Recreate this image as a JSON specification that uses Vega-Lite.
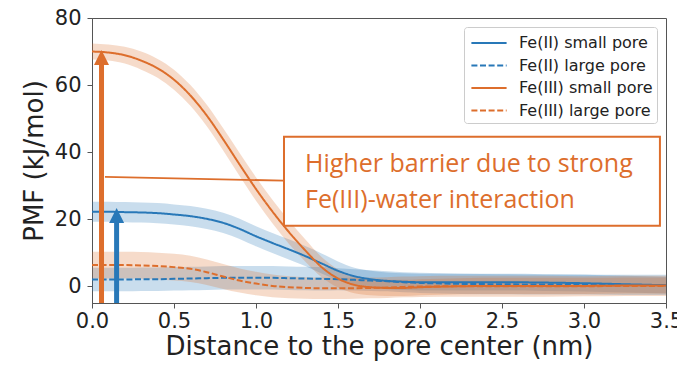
{
  "$schema": "https://vega.github.io/schema/vega-lite/v6.json",
  "width": 574,
  "height": 285,
  "autosize": {"type": "none"},
  "padding": {"left": 92, "top": 18, "right": 11, "bottom": 67},
  "background": "white",
  "config": {
    "view": {"stroke": "#555555", "strokeWidth": 1},
    "axis": {"labelFont": "DejaVu Sans", "titleFont": "DejaVu Sans", "labelFontSize": 21, "titleFontSize": 26, "titleFontWeight": "normal", "labelColor": "#222222", "titleColor": "#222222", "tickColor": "#555555", "domainColor": "#555555", "tickSize": 5, "grid": false},
    "legend": {"labelFont": "DejaVu Sans", "labelFontSize": 16, "labelColor": "#222222"}
  },
  "datasets": {
    "curves": [
      {"s": "Fe(II) small pore", "x": 0, "y": 22.2, "lo": 19.2, "hi": 25.2},
      {"s": "Fe(II) small pore", "x": 0.1, "y": 22.2, "lo": 19.2, "hi": 25.2},
      {"s": "Fe(II) small pore", "x": 0.2, "y": 22.1, "lo": 19.1, "hi": 25.1},
      {"s": "Fe(II) small pore", "x": 0.3, "y": 22.0, "lo": 19.0, "hi": 25.0},
      {"s": "Fe(II) small pore", "x": 0.4, "y": 21.8, "lo": 18.8, "hi": 24.8},
      {"s": "Fe(II) small pore", "x": 0.5, "y": 21.4, "lo": 18.4, "hi": 24.4},
      {"s": "Fe(II) small pore", "x": 0.6, "y": 20.9, "lo": 17.9, "hi": 23.9},
      {"s": "Fe(II) small pore", "x": 0.7, "y": 20.1, "lo": 17.1, "hi": 23.1},
      {"s": "Fe(II) small pore", "x": 0.8, "y": 18.9, "lo": 15.9, "hi": 21.9},
      {"s": "Fe(II) small pore", "x": 0.9, "y": 17.1, "lo": 14.1, "hi": 20.1},
      {"s": "Fe(II) small pore", "x": 1.0, "y": 14.9, "lo": 11.9, "hi": 17.9},
      {"s": "Fe(II) small pore", "x": 1.1, "y": 12.9, "lo": 9.9, "hi": 15.9},
      {"s": "Fe(II) small pore", "x": 1.2, "y": 11.0, "lo": 8.0, "hi": 14.0},
      {"s": "Fe(II) small pore", "x": 1.3, "y": 9.0, "lo": 6.0, "hi": 12.0},
      {"s": "Fe(II) small pore", "x": 1.4, "y": 6.8, "lo": 3.8, "hi": 9.8},
      {"s": "Fe(II) small pore", "x": 1.5, "y": 4.6, "lo": 1.8, "hi": 7.4},
      {"s": "Fe(II) small pore", "x": 1.6, "y": 3.0, "lo": 0.5, "hi": 5.5},
      {"s": "Fe(II) small pore", "x": 1.7, "y": 2.1, "lo": -0.4, "hi": 4.6},
      {"s": "Fe(II) small pore", "x": 1.8, "y": 1.6, "lo": -0.9, "hi": 4.1},
      {"s": "Fe(II) small pore", "x": 1.9, "y": 1.35, "lo": -1.15, "hi": 3.85},
      {"s": "Fe(II) small pore", "x": 2.0, "y": 1.2, "lo": -1.3, "hi": 3.7},
      {"s": "Fe(II) small pore", "x": 2.25, "y": 1.2, "lo": -1.3, "hi": 3.7},
      {"s": "Fe(II) small pore", "x": 2.5, "y": 1.2, "lo": -1.3, "hi": 3.7},
      {"s": "Fe(II) small pore", "x": 2.75, "y": 1.1, "lo": -1.4, "hi": 3.6},
      {"s": "Fe(II) small pore", "x": 3.0, "y": 0.9, "lo": -1.6, "hi": 3.4},
      {"s": "Fe(II) small pore", "x": 3.25, "y": 0.6, "lo": -1.9, "hi": 3.1},
      {"s": "Fe(II) small pore", "x": 3.5, "y": 0.3, "lo": -2.2, "hi": 2.8},

      {"s": "Fe(II) large pore", "x": 0, "y": 2.0, "lo": -1.5, "hi": 5.5},
      {"s": "Fe(II) large pore", "x": 0.1, "y": 2.0, "lo": -1.5, "hi": 5.5},
      {"s": "Fe(II) large pore", "x": 0.2, "y": 2.0, "lo": -1.5, "hi": 5.5},
      {"s": "Fe(II) large pore", "x": 0.3, "y": 2.1, "lo": -1.4, "hi": 5.6},
      {"s": "Fe(II) large pore", "x": 0.4, "y": 2.1, "lo": -1.4, "hi": 5.6},
      {"s": "Fe(II) large pore", "x": 0.5, "y": 2.2, "lo": -1.3, "hi": 5.7},
      {"s": "Fe(II) large pore", "x": 0.6, "y": 2.3, "lo": -1.2, "hi": 5.8},
      {"s": "Fe(II) large pore", "x": 0.7, "y": 2.4, "lo": -1.1, "hi": 5.9},
      {"s": "Fe(II) large pore", "x": 0.8, "y": 2.5, "lo": -1.0, "hi": 6.0},
      {"s": "Fe(II) large pore", "x": 0.9, "y": 2.5, "lo": -1.0, "hi": 6.0},
      {"s": "Fe(II) large pore", "x": 1.0, "y": 2.5, "lo": -1.0, "hi": 6.0},
      {"s": "Fe(II) large pore", "x": 1.1, "y": 2.5, "lo": -1.0, "hi": 6.0},
      {"s": "Fe(II) large pore", "x": 1.2, "y": 2.4, "lo": -1.1, "hi": 5.9},
      {"s": "Fe(II) large pore", "x": 1.3, "y": 2.3, "lo": -1.2, "hi": 5.8},
      {"s": "Fe(II) large pore", "x": 1.4, "y": 2.2, "lo": -1.3, "hi": 5.7},
      {"s": "Fe(II) large pore", "x": 1.5, "y": 2.1, "lo": -1.2, "hi": 5.4},
      {"s": "Fe(II) large pore", "x": 1.6, "y": 1.9, "lo": -1.3, "hi": 5.1},
      {"s": "Fe(II) large pore", "x": 1.7, "y": 1.7, "lo": -1.4, "hi": 4.8},
      {"s": "Fe(II) large pore", "x": 1.8, "y": 1.5, "lo": -1.5, "hi": 4.5},
      {"s": "Fe(II) large pore", "x": 1.9, "y": 1.2, "lo": -1.8, "hi": 4.2},
      {"s": "Fe(II) large pore", "x": 2.0, "y": 1.0, "lo": -2.0, "hi": 4.0},
      {"s": "Fe(II) large pore", "x": 2.25, "y": 0.7, "lo": -2.3, "hi": 3.7},
      {"s": "Fe(II) large pore", "x": 2.5, "y": 0.6, "lo": -2.4, "hi": 3.6},
      {"s": "Fe(II) large pore", "x": 2.75, "y": 0.5, "lo": -2.5, "hi": 3.5},
      {"s": "Fe(II) large pore", "x": 3.0, "y": 0.5, "lo": -2.5, "hi": 3.5},
      {"s": "Fe(II) large pore", "x": 3.25, "y": 0.4, "lo": -2.6, "hi": 3.4},
      {"s": "Fe(II) large pore", "x": 3.5, "y": 0.4, "lo": -2.6, "hi": 3.4},

      {"s": "Fe(III) small pore", "x": 0, "y": 70.0, "lo": 67.6, "hi": 72.4},
      {"s": "Fe(III) small pore", "x": 0.1, "y": 69.7, "lo": 67.3, "hi": 72.1},
      {"s": "Fe(III) small pore", "x": 0.2, "y": 68.9, "lo": 66.4, "hi": 71.4},
      {"s": "Fe(III) small pore", "x": 0.3, "y": 67.3, "lo": 64.6, "hi": 70.0},
      {"s": "Fe(III) small pore", "x": 0.4, "y": 65.0, "lo": 62.2, "hi": 67.8},
      {"s": "Fe(III) small pore", "x": 0.5, "y": 61.6, "lo": 58.6, "hi": 64.6},
      {"s": "Fe(III) small pore", "x": 0.6, "y": 56.9, "lo": 53.8, "hi": 60.0},
      {"s": "Fe(III) small pore", "x": 0.7, "y": 50.9, "lo": 47.7, "hi": 54.1},
      {"s": "Fe(III) small pore", "x": 0.8, "y": 43.8, "lo": 40.5, "hi": 47.1},
      {"s": "Fe(III) small pore", "x": 0.9, "y": 36.3, "lo": 32.9, "hi": 39.7},
      {"s": "Fe(III) small pore", "x": 1.0, "y": 29.0, "lo": 25.5, "hi": 32.5},
      {"s": "Fe(III) small pore", "x": 1.1, "y": 22.3, "lo": 18.8, "hi": 25.8},
      {"s": "Fe(III) small pore", "x": 1.2, "y": 16.2, "lo": 12.7, "hi": 19.7},
      {"s": "Fe(III) small pore", "x": 1.3, "y": 10.7, "lo": 7.4, "hi": 14.0},
      {"s": "Fe(III) small pore", "x": 1.4, "y": 5.7, "lo": 2.7, "hi": 8.7},
      {"s": "Fe(III) small pore", "x": 1.5, "y": 2.3, "lo": -0.4, "hi": 5.0},
      {"s": "Fe(III) small pore", "x": 1.6, "y": 0.4, "lo": -2.1, "hi": 2.9},
      {"s": "Fe(III) small pore", "x": 1.7, "y": -0.3, "lo": -2.7, "hi": 2.1},
      {"s": "Fe(III) small pore", "x": 1.8, "y": -0.5, "lo": -2.9, "hi": 1.9},
      {"s": "Fe(III) small pore", "x": 1.9, "y": -0.5, "lo": -2.9, "hi": 1.9},
      {"s": "Fe(III) small pore", "x": 2.0, "y": -0.3, "lo": -2.7, "hi": 2.1},
      {"s": "Fe(III) small pore", "x": 2.25, "y": 0.0, "lo": -2.4, "hi": 2.4},
      {"s": "Fe(III) small pore", "x": 2.5, "y": 0.1, "lo": -2.3, "hi": 2.5},
      {"s": "Fe(III) small pore", "x": 2.75, "y": 0.1, "lo": -2.3, "hi": 2.5},
      {"s": "Fe(III) small pore", "x": 3.0, "y": 0.1, "lo": -2.3, "hi": 2.5},
      {"s": "Fe(III) small pore", "x": 3.25, "y": 0.2, "lo": -2.2, "hi": 2.6},
      {"s": "Fe(III) small pore", "x": 3.5, "y": 0.2, "lo": -2.2, "hi": 2.6},

      {"s": "Fe(III) large pore", "x": 0, "y": 6.3, "lo": 2.3, "hi": 10.3},
      {"s": "Fe(III) large pore", "x": 0.1, "y": 6.3, "lo": 2.3, "hi": 10.3},
      {"s": "Fe(III) large pore", "x": 0.2, "y": 6.3, "lo": 2.3, "hi": 10.3},
      {"s": "Fe(III) large pore", "x": 0.3, "y": 6.2, "lo": 2.2, "hi": 10.2},
      {"s": "Fe(III) large pore", "x": 0.4, "y": 6.0, "lo": 2.0, "hi": 10.0},
      {"s": "Fe(III) large pore", "x": 0.5, "y": 5.7, "lo": 1.7, "hi": 9.7},
      {"s": "Fe(III) large pore", "x": 0.6, "y": 5.2, "lo": 1.3, "hi": 9.1},
      {"s": "Fe(III) large pore", "x": 0.7, "y": 4.2, "lo": 0.4, "hi": 8.0},
      {"s": "Fe(III) large pore", "x": 0.8, "y": 2.9, "lo": -0.8, "hi": 6.6},
      {"s": "Fe(III) large pore", "x": 0.9, "y": 1.7, "lo": -1.9, "hi": 5.3},
      {"s": "Fe(III) large pore", "x": 1.0, "y": 0.8, "lo": -2.7, "hi": 4.3},
      {"s": "Fe(III) large pore", "x": 1.1, "y": 0.1, "lo": -3.3, "hi": 3.5},
      {"s": "Fe(III) large pore", "x": 1.2, "y": -0.3, "lo": -3.6, "hi": 3.0},
      {"s": "Fe(III) large pore", "x": 1.3, "y": -0.5, "lo": -3.7, "hi": 2.7},
      {"s": "Fe(III) large pore", "x": 1.4, "y": -0.6, "lo": -3.8, "hi": 2.6},
      {"s": "Fe(III) large pore", "x": 1.5, "y": -0.6, "lo": -3.8, "hi": 2.6},
      {"s": "Fe(III) large pore", "x": 1.6, "y": -0.6, "lo": -3.7, "hi": 2.5},
      {"s": "Fe(III) large pore", "x": 1.7, "y": -0.5, "lo": -3.6, "hi": 2.6},
      {"s": "Fe(III) large pore", "x": 1.8, "y": -0.4, "lo": -3.5, "hi": 2.7},
      {"s": "Fe(III) large pore", "x": 1.9, "y": -0.2, "lo": -3.3, "hi": 2.9},
      {"s": "Fe(III) large pore", "x": 2.0, "y": -0.1, "lo": -3.2, "hi": 3.0},
      {"s": "Fe(III) large pore", "x": 2.25, "y": 0.0, "lo": -3.1, "hi": 3.1},
      {"s": "Fe(III) large pore", "x": 2.5, "y": 0.0, "lo": -3.1, "hi": 3.1},
      {"s": "Fe(III) large pore", "x": 2.75, "y": 0.0, "lo": -3.1, "hi": 3.1},
      {"s": "Fe(III) large pore", "x": 3.0, "y": 0.0, "lo": -3.0, "hi": 3.0},
      {"s": "Fe(III) large pore", "x": 3.25, "y": 0.1, "lo": -2.9, "hi": 3.1},
      {"s": "Fe(III) large pore", "x": 3.5, "y": 0.1, "lo": -2.9, "hi": 3.1}
    ],
    "arrows": [
      {"ion": "Fe(III)", "x": 0.058, "y": -5, "y2": 68.2},
      {"ion": "Fe(II)", "x": 0.15, "y": -5, "y2": 21.1}
    ],
    "conn": [{"x": 0.079, "y": 32.6, "x2": 1.17, "y2": 31.5}],
    "box": [{"x": 1.1707, "x2": 3.463, "y": 44.6, "y2": 18.05}],
    "note": [{"x": 1.299, "y": 34.2, "text": ["Higher barrier due to strong", "Fe(III)-water interaction"]}]
  },
  "layer": [
    {
      "data": {"name": "curves"},
      "mark": {"type": "area", "opacity": 0.25, "interpolate": "monotone"},
      "encoding": {
        "x": {"field": "x", "type": "quantitative", "scale": {"domain": [0, 3.5], "nice": false, "zero": false},
              "axis": {"title": "Distance to the pore center (nm)", "values": [0, 0.5, 1, 1.5, 2, 2.5, 3, 3.5], "format": ".1f", "labelPadding": 2, "titlePadding": 2, "labelFlush": false, "labelOverlap": false}},
        "y": {"field": "lo", "type": "quantitative", "scale": {"domain": [-5, 80], "nice": false, "zero": false},
              "axis": {"title": "PMF (kJ/mol)", "values": [0, 20, 40, 60, 80], "labelPadding": 6, "titlePadding": 7, "labelFlush": false, "labelOverlap": false}},
        "y2": {"field": "hi"},
        "fill": {"field": "s", "type": "nominal",
                  "scale": {"domain": ["Fe(III) large pore", "Fe(III) small pore", "Fe(II) large pore", "Fe(II) small pore"], "range": ["#dd6e2c", "#dd6e2c", "#2878b8", "#2878b8"]},
                  "legend": null}
      }
    },
    {
      "data": {"name": "curves"},
      "mark": {"type": "line", "strokeWidth": 2, "interpolate": "monotone"},
      "encoding": {
        "x": {"field": "x", "type": "quantitative"},
        "y": {"field": "y", "type": "quantitative"},
        "color": {"field": "s", "type": "nominal",
                  "scale": {"domain": ["Fe(II) small pore", "Fe(II) large pore", "Fe(III) small pore", "Fe(III) large pore"], "range": ["#2878b8", "#2878b8", "#dd6e2c", "#dd6e2c"]},
                  "legend": {"title": null, "orient": "top-right", "offset": 9, "padding": 4, "fillColor": "white", "strokeColor": "#cccccc", "cornerRadius": 3, "rowPadding": 2.5, "labelFontSize": 16, "symbolType": "M-1.6,0L1.6,0", "symbolSize": 484, "symbolStrokeWidth": 2, "symbolOffset": 9, "labelOffset": 18}},
        "strokeDash": {"field": "s", "type": "nominal",
                       "scale": {"domain": ["Fe(II) small pore", "Fe(II) large pore", "Fe(III) small pore", "Fe(III) large pore"], "range": [[1, 0], [6, 2.6], [1, 0], [6, 2.6]]},
                       "legend": {"title": null, "orient": "top-right", "offset": 9, "padding": 4, "fillColor": "white", "strokeColor": "#cccccc", "cornerRadius": 3, "rowPadding": 2.5, "labelFontSize": 16, "symbolType": "M-1.6,0L1.6,0", "symbolSize": 484, "symbolStrokeWidth": 2, "symbolOffset": 9, "labelOffset": 18}}
      }
    },
    {
      "data": {"name": "arrows"},
      "transform": [{"filter": "datum.ion === 'Fe(III)'"}],
      "mark": {"type": "rule", "color": "#dd6e2c", "strokeWidth": 5},
      "encoding": {
        "x": {"field": "x", "type": "quantitative"},
        "y": {"field": "y", "type": "quantitative"},
        "y2": {"field": "y2"}
      }
    },
    {
      "data": {"name": "arrows"},
      "transform": [{"filter": "datum.ion === 'Fe(II)'"}],
      "mark": {"type": "rule", "color": "#2878b8", "strokeWidth": 5},
      "encoding": {
        "x": {"field": "x", "type": "quantitative"},
        "y": {"field": "y", "type": "quantitative"},
        "y2": {"field": "y2"}
      }
    },
    {
      "data": {"name": "arrows"},
      "transform": [{"filter": "datum.ion === 'Fe(III)'"}],
      "mark": {"type": "point", "shape": "M-1,1L0,-1L1,1Z", "size": 225, "filled": true, "opacity": 1, "color": "#dd6e2c", "strokeWidth": 0},
      "encoding": {
        "x": {"field": "x", "type": "quantitative"},
        "y": {"field": "y2", "type": "quantitative"}
      }
    },
    {
      "data": {"name": "arrows"},
      "transform": [{"filter": "datum.ion === 'Fe(II)'"}],
      "mark": {"type": "point", "shape": "M-1,1L0,-1L1,1Z", "size": 225, "filled": true, "opacity": 1, "color": "#2878b8", "strokeWidth": 0},
      "encoding": {
        "x": {"field": "x", "type": "quantitative"},
        "y": {"field": "y2", "type": "quantitative"}
      }
    },
    {
      "data": {"name": "conn"},
      "mark": {"type": "rule", "color": "#dd6e2c", "strokeWidth": 1.8},
      "encoding": {
        "x": {"field": "x", "type": "quantitative"},
        "y": {"field": "y", "type": "quantitative"},
        "x2": {"field": "x2"},
        "y2": {"field": "y2"}
      }
    },
    {
      "data": {"name": "box"},
      "mark": {"type": "rect", "fill": "white", "stroke": "#dd6e2c", "strokeWidth": 2},
      "encoding": {
        "x": {"field": "x", "type": "quantitative"},
        "x2": {"field": "x2"},
        "y": {"field": "y", "type": "quantitative"},
        "y2": {"field": "y2"}
      }
    },
    {
      "data": {"name": "note"},
      "mark": {"type": "text", "align": "left", "baseline": "alphabetic", "font": "Open Sans", "fontSize": 25, "lineHeight": 36, "color": "#dd6e2c"},
      "encoding": {
        "x": {"field": "x", "type": "quantitative"},
        "y": {"field": "y", "type": "quantitative"},
        "text": {"field": "text"}
      }
    }
  ]
}
